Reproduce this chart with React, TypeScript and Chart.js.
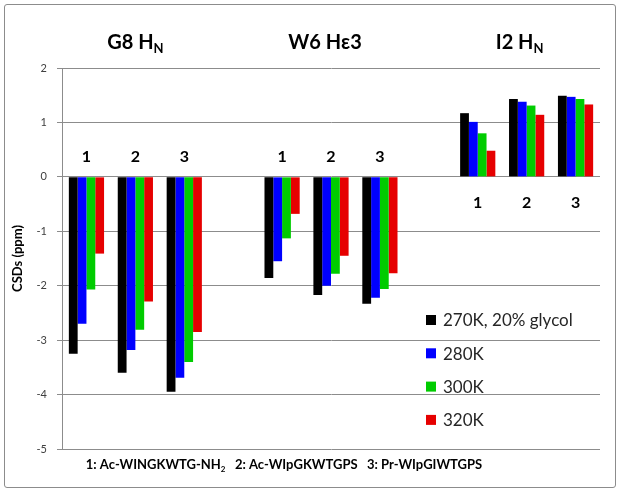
import React, { useEffect, useRef } from "react";
import { Chart, registerables } from "chart.js";

Chart.register(...registerables);

// ---- data ----
const categories = ["1", "2", "3", "", "1", "2", "3", "", "1", "2", "3"];
const seriesLabels = ["270K, 20% glycol", "280K", "300K", "320K"];
const seriesColors = ["#000000", "#0000FF", "#00CC00", "#E60000"];
const s270 = [-3.25, -3.6, -3.95, null, -1.86, -2.17, -2.33, null, 1.17, 1.43, 1.49];
const s280 = [-2.7, -3.18, -3.69, null, -1.55, -2.0, -2.22, null, 1.01, 1.38, 1.47];
const s300 = [-2.07, -2.81, -3.4, null, -1.13, -1.78, -2.06, null, 0.8, 1.31, 1.43];
const s320 = [-1.41, -2.29, -2.85, null, -0.68, -1.45, -1.77, null, 0.48, 1.14, 1.33];
const groupTitles = [
  [{ t: "G8 H" }, { t: "N", sub: true }],
  [{ t: "W6 Hε3" }],
  [{ t: "I2 H" }, { t: "N", sub: true }],
];
const groupMiddleIndex = [1, 5, 9];
const footnote = [
  { t: "1: Ac-WINGKWTG-NH" },
  { t: "2", sub: true },
  { t: "   2: Ac-WIpGKWTGPS   3: Pr-WIpGIWTGPS" },
];
const yTitle = "CSDs (ppm)";
const yMin = -5;
const yMax = 2;

const FONT = "Lato, 'Open Sans', 'DejaVu Sans', sans-serif";

type Part = { t: string; sub?: boolean };

function drawRich(
  ctx: CanvasRenderingContext2D,
  parts: Part[],
  cx: number,
  cy: number,
  size: number,
  align: "center" | "left"
) {
  const subSize = Math.round(size * 0.65);
  const widths = parts.map((p) => {
    ctx.font = `bold ${p.sub ? subSize : size}px ${FONT}`;
    return ctx.measureText(p.t).width;
  });
  const total = widths.reduce((a, b) => a + b, 0);
  let x = align === "center" ? cx - total / 2 : cx;
  ctx.textAlign = "left";
  ctx.textBaseline = "alphabetic";
  parts.forEach((p, i) => {
    ctx.font = `bold ${p.sub ? subSize : size}px ${FONT}`;
    ctx.fillText(p.t, x, cy + (p.sub ? size * 0.22 : 0));
    x += widths[i];
  });
}

const overlayPlugin = {
  id: "overlay",
  afterDraw(chart: any) {
    const { ctx, scales } = chart;
    const xs = scales.x;
    const ys = scales.y;
    ctx.save();
    ctx.fillStyle = "#000";
    // group titles
    const titleDx = [0, -6, -7];
    groupTitles.forEach((parts, g) => {
      const cx = xs.getPixelForValue(groupMiddleIndex[g]) + titleDx[g];
      drawRich(ctx, parts as Part[], cx, 49, 20, "center");
    });
    // category number labels
    const zero = ys.getPixelForValue(0);
    ctx.font = `bold 16px ${FONT}`;
    ctx.textAlign = "center";
    ctx.textBaseline = "middle";
    categories.forEach((c, i) => {
      if (!c) return;
      const v = s270[i] as number;
      const yy = v < 0 ? zero - 20 : zero + 26;
      ctx.fillText(c, xs.getPixelForValue(i), yy);
    });
    // legend
    const lx = 426;
    const ly0 = 320;
    const step = 33.3;
    seriesLabels.forEach((lab, i) => {
      const cy = ly0 + i * step;
      ctx.fillStyle = seriesColors[i];
      ctx.fillRect(lx, cy - 5, 10, 10);
      ctx.fillStyle = "#262626";
      ctx.font = `17px ${FONT}`;
      ctx.textAlign = "left";
      ctx.textBaseline = "middle";
      ctx.fillText(lab, lx + 17, cy + 1);
    });
    // footnote
    ctx.fillStyle = "#000";
    drawRich(ctx, footnote as Part[], 284, 469, 13, "center");
    ctx.restore();
  },
};

export default function App() {
  const ref = useRef<HTMLCanvasElement | null>(null);
  useEffect(() => {
    if (!ref.current) return;
    const data = [s270, s280, s300, s320];
    const chart = new Chart(ref.current, {
      type: "bar",
      data: {
        labels: categories,
        datasets: seriesLabels.map((label, i) => ({
          label,
          data: data[i] as any,
          backgroundColor: seriesColors[i],
          borderWidth: 0,
          categoryPercentage: 0.72,
          barPercentage: 1,
        })),
      },
      options: {
        animation: false,
        responsive: false,
        maintainAspectRatio: false,
        layout: { padding: { left: 8, right: 24, top: 68, bottom: 45 } },
        plugins: {
          legend: { display: false },
          tooltip: { enabled: false },
          title: { display: false },
        },
        scales: {
          x: { display: false },
          y: {
            min: yMin,
            max: yMax,
            ticks: {
              stepSize: 1,
              padding: 10,
              color: "#404040",
              font: { family: FONT, size: 11 },
            },
            grid: {
              color: "#8c8c8c",
              tickLength: 5,
              lineWidth: 1,
            },
            border: { color: "#8c8c8c", width: 1 },
            title: {
              display: true,
              text: yTitle,
              color: "#000",
              font: { family: FONT, size: 13, weight: "bold" },
              padding: { top: 2, bottom: 0 },
            },
            afterFit(scale: any) {
              scale.width = 54;
            },
          },
        },
      },
      plugins: [overlayPlugin],
    });
    return () => chart.destroy();
  }, []);

  return (
    <div
      style={{
        position: "fixed",
        left: 0,
        top: 0,
        width: 624,
        height: 494,
        background: "#fff",
      }}
    >
      <div
        style={{
          position: "absolute",
          left: 4,
          top: 4,
          width: 612,
          height: 484,
          border: "1px solid #8c8c8c",
          borderRadius: 3,
          boxSizing: "border-box",
        }}
      />
      <canvas
        ref={ref}
        width={624}
        height={494}
        style={{ position: "absolute", left: 0, top: 0 }}
      />
    </div>
  );
}
